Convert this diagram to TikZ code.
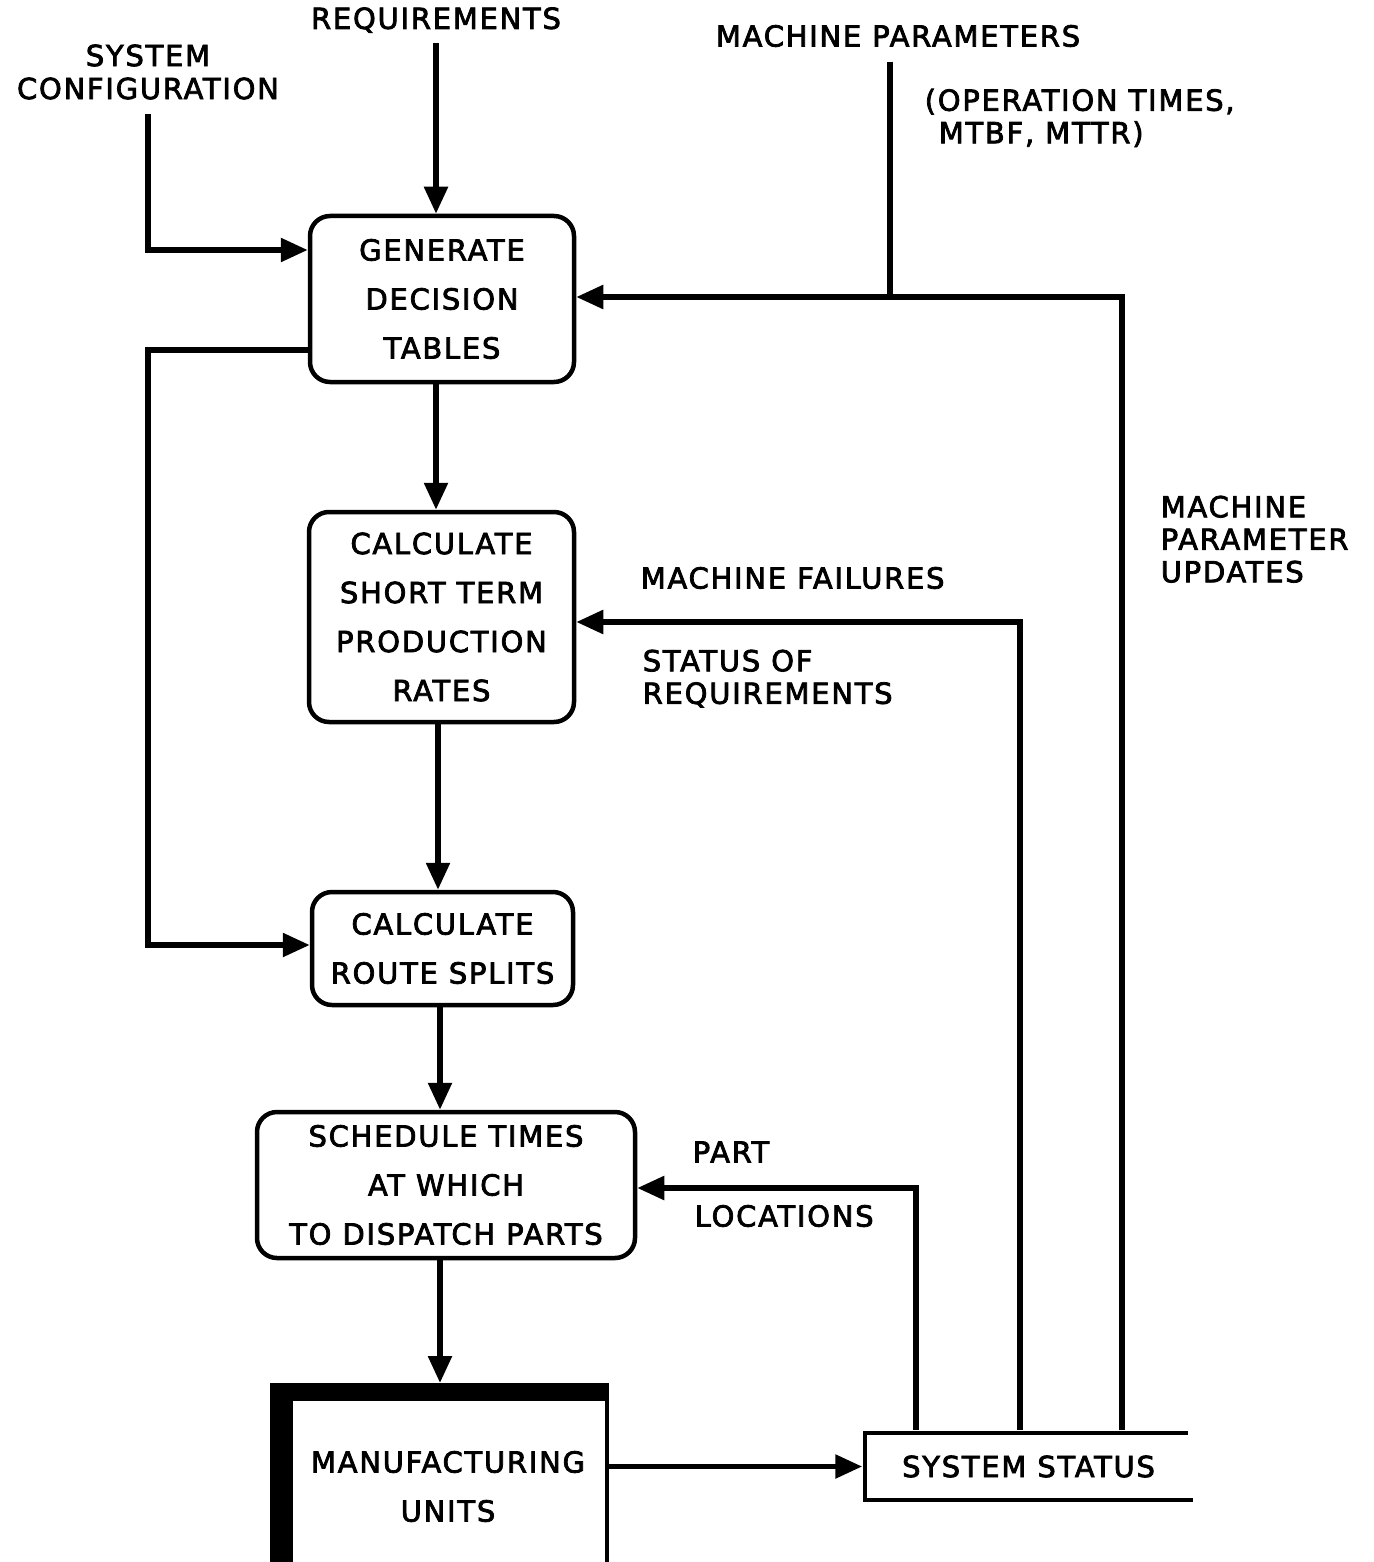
\documentclass[tikz,border=0pt]{standalone}
\usepackage{fontspec}
\setmainfont[LetterSpace=6, FakeBold=2.6]{DejaVu Sans}
\usetikzlibrary{arrows.meta}
\begin{document}
\begin{tikzpicture}[x=1pt,y=-1pt,
  line width=5.5pt,
  txt/.style={font=\fontsize{29}{49}\selectfont, inner sep=0pt},
  lbl/.style={txt, align=left, font=\fontsize{29}{32.5}\selectfont},
  proc/.style={txt, draw, line width=4.5pt, rounded corners=20pt, align=center},
  arr/.style={-{Triangle[length=27pt,width=23pt]}}]
\useasboundingbox (0,0) rectangle (1373,1562);

% process boxes
\node[proc, minimum width=264pt, minimum height=166pt] (b1) at (442,299) {GENERATE\\DECISION\\TABLES};
\node[proc, minimum width=265pt, minimum height=210pt] (b2) at (441.5,617) {CALCULATE\\SHORT TERM\\PRODUCTION\\RATES};
\node[proc, minimum width=261pt, minimum height=113pt] (b3) at (442.5,948.5) {CALCULATE\\ROUTE SPLITS};
\node[proc, minimum width=378pt, minimum height=146pt] (b4) at (446,1185) {SCHEDULE TIMES\\AT WHICH\\TO DISPATCH PARTS};

% manufacturing units
\node[draw, line width=4pt, inner sep=0pt, minimum width=335pt, minimum height=190pt] (mu) at (439.5,1480) {};
\fill (272,1385) rectangle (607,1401);
\fill (272,1385) rectangle (293,1570);
\node[txt, align=center] (mut) at (448,1486.5) {MANUFACTURING\\UNITS};

% system status
\node[txt, minimum width=327pt, minimum height=67pt] (ss) at (1028.5,1466.5) {SYSTEM STATUS};
\draw[line width=4pt] (1188,1433) -- (865,1433) -- (865,1500) -- (1193,1500);

% input labels
\node[txt] (req) at (436,20) {REQUIREMENTS};
\node[txt, align=center, font=\fontsize{29}{33}\selectfont] (cfg) at (148,72) {SYSTEM\\CONFIGURATION};
\node[txt] (mp) at (898,36) {MACHINE PARAMETERS};
\node[lbl, anchor=north west] (op) at (922,86) {(OPERATION TIMES,\\\hspace*{14pt}MTBF, MTTR)};
\node[lbl, anchor=north west] (mpu) at (1158,493) {MACHINE\\PARAMETER\\UPDATES};
\node[txt, anchor=west] (mf) at (638,578) {MACHINE FAILURES};
\node[lbl, anchor=north west] (sr) at (640,647) {STATUS OF\\REQUIREMENTS};
\node[txt, anchor=west] (pl1) at (690,1152) {PART};
\node[txt, anchor=west] (pl2) at (692,1216) {LOCATIONS};

% bend coordinates
\coordinate (c6) at (148,250);
\coordinate (j1) at (890,297);
\coordinate (c1) at (1122,297);
\coordinate (c2) at (1020,622);
\coordinate (c3) at (916,1188);
\coordinate (c4) at (148,350);
\coordinate (c5) at (148,945);

% connectors
\draw[arr, shorten <=8pt] (req.south) -- (req.south |- b1.north);
\draw[arr, shorten <=12pt] (cfg.south) -- (c6) -- (b1.west |- c6);
\draw[shorten <=12pt] (mp.south -| j1) -- (j1);
\draw[arr] (ss.north -| c1) -- (c1) -- (b1.east |- c1);
\draw[arr] (ss.north -| c2) -- (c2) -- (b2.east |- c2);
\draw[arr] (ss.north -| c3) -- (c3) -- (b4.east |- c3);
\draw[arr] (b1.west |- c4) -- (c4) -- (c5) -- (b3.west |- c5);
\draw[arr] ([xshift=-6pt]b1.south) -- ([xshift=-6pt]b1.south |- b2.north);
\draw[arr] ([xshift=-3.5pt]b2.south) -- ([xshift=-3.5pt]b2.south |- b3.north);
\draw[arr] ([xshift=-2.5pt]b3.south) -- ([xshift=-2.5pt]b3.south |- b4.north);
\draw[arr] ([xshift=-6pt]b4.south) -- ([xshift=-6pt]b4.south |- mu.north);
\draw[arr] (mu.east |- ss) -- (ss.west);
\end{tikzpicture}
\end{document}
